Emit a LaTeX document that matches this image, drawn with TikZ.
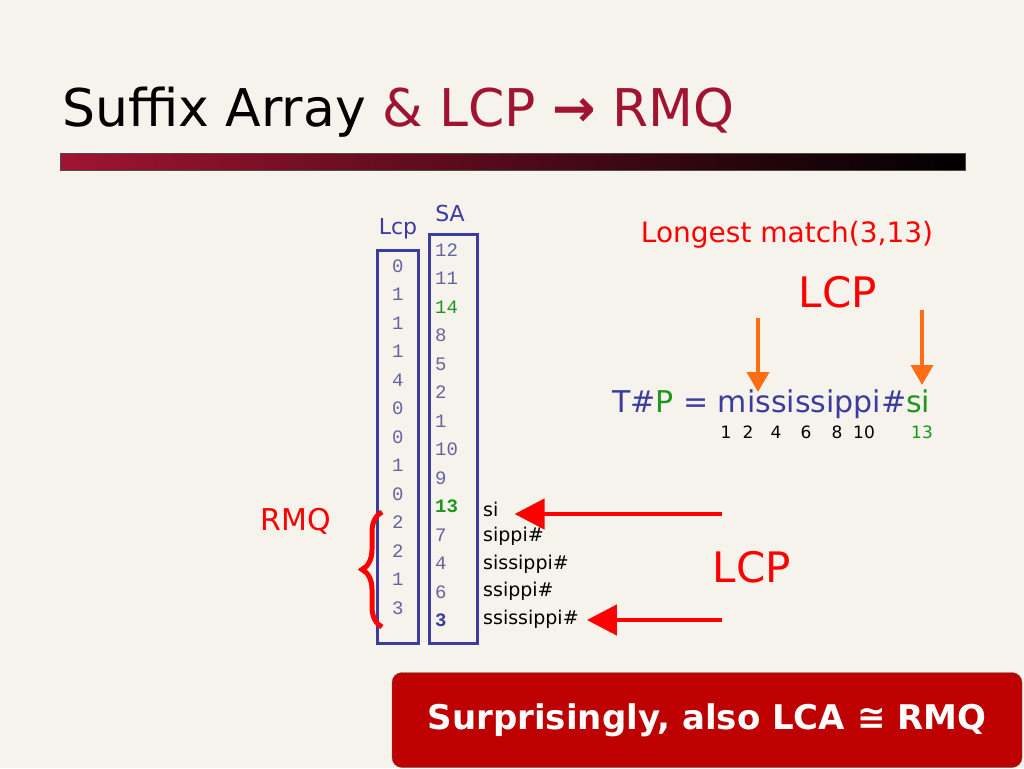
\documentclass[tikz,border=0pt]{standalone}
\usepackage{fontspec}
\setmainfont{DejaVu Sans}
\newfontfamily\mono{Liberation Mono}
\usetikzlibrary{decorations.pathreplacing,arrows.meta}
\definecolor{bg}{RGB}{245,243,235}
\definecolor{tred}{RGB}{160,20,50}
\definecolor{cblue}{RGB}{60,60,160}
\definecolor{nblue}{RGB}{100,100,160}
\definecolor{cgreen}{RGB}{30,150,30}
\definecolor{aorange}{RGB}{255,110,20}
\definecolor{boxred}{RGB}{190,0,0}
\begin{document}
\begin{tikzpicture}[x=1pt,y=-1pt,
  num/.style={font=\mono\fontsize{19}{19}\selectfont,text=nblue,anchor=west,inner sep=0},
  suf/.style={font=\fontsize{19}{19}\selectfont,anchor=west,inner sep=0},
  col/.style={draw=cblue,line width=3pt},
  redarr/.style={draw=red,line width=4.5pt,-{Triangle[length=30pt,width=30pt]}},
  orarr/.style={draw=aorange,line width=4pt,-{Triangle[length=20pt,width=22pt]}}]
\fill[bg] (0,0) rectangle (1024,768);
\useasboundingbox (0,0) rectangle (1024,768);
\node[anchor=west,font=\fontsize{52}{52}\selectfont,inner sep=0] (title) at (62,112) {Suffix Array \textcolor{tred}{\& LCP} \textcolor{tred}{\textbf{→} RMQ}};
\shade[left color=tred,right color=black] (60,153) rectangle (965,170);
\draw[black!70] (60,153) rectangle (965,170);
\draw[col] (377,250) rectangle (418,643);
\draw[col] (429,234) rectangle (477,643);
\node[font=\fontsize{22}{22}\selectfont,text=cblue] (lcph) at (398,229) {Lcp};
\node[font=\fontsize{22}{22}\selectfont,text=cblue] (sah) at (450,213) {SA};
\foreach \v [count=\i from 0] in {0,1,1,1,4,0,0,1,0,2,2,1,3}
  \node[num] (l\i) at (392,266+28.5*\i) {\v};
\foreach \v/\c [count=\i from 0] in {12/nblue,11/nblue,14/cgreen,8/nblue,5/nblue,2/nblue,1/nblue,10/nblue,9/nblue}
  \node[num,text=\c] (s\i) at (435,250+28.5*\i) {\v};
\node[num,text=cgreen,font=\mono\bfseries\fontsize{19}{19}\selectfont] (s9) at (435,506.5) {13};
\node[num] (s10) at (435,535) {7};
\node[num] (s11) at (435,563.5) {4};
\node[num] (s12) at (435,592) {6};
\node[num,text=cblue,font=\mono\bfseries\fontsize{19}{19}\selectfont] (s13) at (435,620.5) {3};
\foreach \t [count=\i from 0] in {si,sippi\#,sissippi\#,ssippi\#,ssissippi\#}
  \node[suf] (x\i) at (483,509+27.5*\i) {\t};
\draw[red,line width=5pt,decorate,decoration={brace,amplitude=20pt,aspect=0.5}] (382,627) -- (382,512);
\node[text=red,font=\fontsize{30}{30}\selectfont] (rmq) at (296,521) {RMQ};
\coordinate (a1) at (722,514);
\coordinate (a2) at (722,620);
\draw[redarr] (a1) -- ([xshift=16pt]a1 -| x0.east);
\draw[redarr] (a2) -- ([xshift=8pt]a2 -| x4.east);
\node[text=red,font=\fontsize{42}{42}\selectfont] (lcp2) at (752,567) {LCP};
\node[text=red,font=\fontsize{42}{42}\selectfont] (lcp1) at (838,292) {LCP};
\node[text=red,font=\fontsize{28}{28}\selectfont] (lm) at (787,235) {Longest match(3,13)};
\node[anchor=west,inner sep=0,text=cblue,font=\fontsize{30}{30}\selectfont] (tp) at (612,404) {T\#\textcolor{cgreen}{P} = mississippi\#\textcolor{cgreen}{si}};
\foreach \n/\x in {1/726,2/748,4/776,6/806,8/837,10/864}
  \node[font=\fontsize{17}{17}\selectfont] (k\n) at (\x,432) {\n};
\node[font=\fontsize{17}{17}\selectfont,text=cgreen] (n13) at (922,432) {13};
\coordinate (o1) at (758,318); \coordinate (o1e) at (758,392);
\coordinate (o2) at (922,310); \coordinate (o2e) at (922,385);
\draw[orarr] (o1) -- (o1e);
\draw[orarr] (o2) -- (o2e);
\node[draw=black!60,fill=boxred,rounded corners=10pt,minimum width=630pt,minimum height=95pt,text=white,font=\bfseries\fontsize{34}{34}\selectfont] (box) at (707,720) {Surprisingly, also LCA ≅ RMQ};
\end{tikzpicture}
\end{document}
